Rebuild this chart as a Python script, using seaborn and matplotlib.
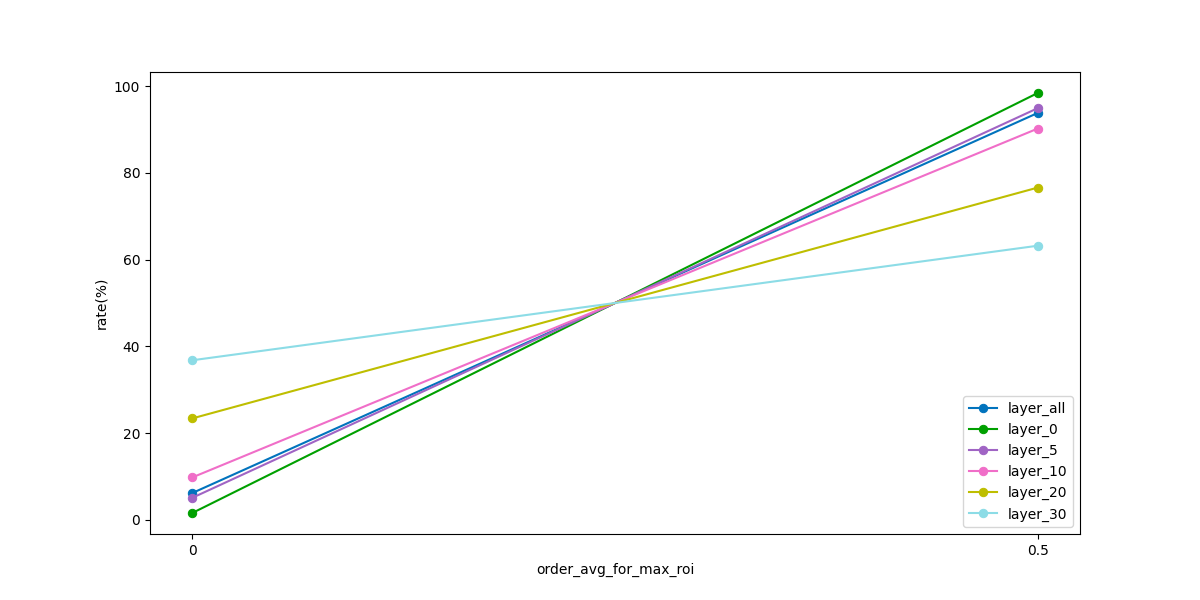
import numpy as np
import pandas as pd
import seaborn as sns
import matplotlib
matplotlib.use('Agg')
import matplotlib.pyplot as plt

x_vals = [0, 0.5]
x_labels = ['0', '0.5']
layers = ['layer_all', 'layer_0', 'layer_5', 'layer_10', 'layer_20', 'layer_30']
rate_at_0 = [6.2, 1.6, 5.1, 9.8, 23.4, 36.8]
rate_at_05 = [93.8, 98.4, 94.9, 90.2, 76.6, 63.2]
colors = ['#0173bd', '#00a000', '#a064c4', '#f06ec8', '#bebe00', '#8cdce6']

plt.figure(figsize=(12, 6), dpi=100)
ax = plt.gca()

for name, a, b, c in zip(layers, rate_at_0, rate_at_05, colors):
    df = pd.DataFrame({'x': x_vals, 'rate': [a, b]})
    sns.lineplot(data=df, x='x', y='rate', marker='o', color=c, label=name,
                 markeredgecolor=c, markersize=6, linewidth=1.5, ax=ax)

ax.set_xticks(x_vals)
ax.set_xticklabels(x_labels)
ax.set_xlabel('order_avg_for_max_roi')
ax.set_ylabel('rate(%)')
ax.legend(loc='lower right')
plt.savefig('out.png')
